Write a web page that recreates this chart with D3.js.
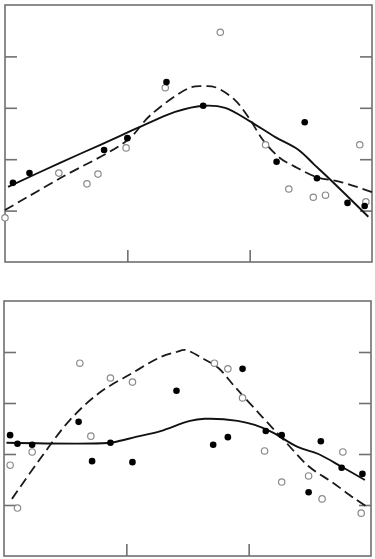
<!DOCTYPE html>
<html>
<head>
<meta charset="utf-8">
<script src="https://cdn.jsdelivr.net/npm/d3@7"></script>
<style>
  html, body { margin: 0; padding: 0; background: #fff; }
  svg { display: block; }
</style>
</head>
<body>
<div id="chart"></div>
<script>
// Panneau du haut : points pleins / vides et deux courbes lissées
const TOP_FILLED = [
  [0.065, 1.54], [0.20, 1.73], [0.81, 2.18], [1.00, 2.41], [1.32, 3.50], [1.62, 3.04],
  [2.22, 1.95], [2.45, 2.72], [2.55, 1.63], [2.80, 1.15], [2.94, 1.09]
];
const TOP_OPEN = [
  [0.00, 0.86], [0.44, 1.73], [0.67, 1.52], [0.76, 1.71], [0.99, 2.22], [1.31, 3.39],
  [1.76, 4.47], [2.13, 2.28], [2.32, 1.42], [2.52, 1.26], [2.62, 1.30], [2.90, 2.28], [2.95, 1.17]
];
const TOP_SOLID = [
  [0.025, 1.46], [0.45, 1.93], [0.78, 2.28], [1.19, 2.72], [1.39, 2.92], [1.62, 3.04],
  [1.80, 3.00], [2.00, 2.74], [2.21, 2.43], [2.40, 2.18], [2.53, 1.89], [2.66, 1.60],
  [2.82, 1.23], [2.97, 0.88]
];
const TOP_DASHED = [
  [0.00, 1.01], [0.45, 1.63], [1.00, 2.37], [1.19, 2.86], [1.51, 3.39], [1.62, 3.42],
  [1.72, 3.40], [1.88, 3.15], [2.00, 2.78], [2.11, 2.37], [2.25, 2.02], [2.39, 1.83],
  [2.55, 1.65], [2.74, 1.56], [3.00, 1.36]
];

// Panneau du bas
const BOTTOM_FILLED = [
  [0.05, 2.37], [0.11, 2.20], [0.23, 2.18], [0.61, 2.63], [0.72, 1.86], [0.87, 2.22],
  [1.05, 1.84], [1.41, 3.24], [1.71, 2.18], [1.83, 2.33], [1.95, 3.67], [2.14, 2.45],
  [2.27, 2.37], [2.49, 1.25], [2.59, 2.25], [2.76, 1.73], [2.93, 1.61]
];
const BOTTOM_OPEN = [
  [0.05, 1.78], [0.11, 0.94], [0.23, 2.04], [0.62, 3.78], [0.71, 2.35], [0.87, 3.49],
  [1.05, 3.41], [1.72, 3.78], [1.83, 3.67], [1.95, 3.10], [2.13, 2.06], [2.27, 1.45],
  [2.49, 1.57], [2.60, 1.12], [2.77, 2.04], [2.92, 0.84]
];
const BOTTOM_SOLID = [
  [0.02, 2.22], [0.87, 2.22], [0.95, 2.26], [1.07, 2.33], [1.28, 2.45], [1.52, 2.65], [1.64, 2.69],
  [1.91, 2.65], [2.05, 2.57], [2.19, 2.43], [2.40, 2.14], [2.57, 2.00], [2.76, 1.75],
  [2.95, 1.49]
];
const BOTTOM_DASHED = [
  [0.065, 1.12], [0.30, 1.92], [0.54, 2.67], [0.78, 3.20], [1.05, 3.59],
  [1.28, 3.90], [1.41, 4.00], [1.48, 4.04], [1.62, 3.88], [1.75, 3.69], [1.89, 3.31],
  [2.11, 2.73], [2.30, 2.24], [2.49, 1.76], [2.68, 1.45], [2.87, 1.12], [2.97, 0.96]
];

const X_TICKS = [1, 2];
const Y_TICKS = [1, 2, 3, 4];

const W = 375, H = 559;
const svg = d3.select('#chart').append('svg').attr('width', W).attr('height', H);

const PANELS = [
  { left: 5, right: 372, top: 5, bottom: 262,
    filled: TOP_FILLED, open: TOP_OPEN, solid: TOP_SOLID, dashed: TOP_DASHED },
  { left: 4, right: 371, top: 301, bottom: 556,
    filled: BOTTOM_FILLED, open: BOTTOM_OPEN, solid: BOTTOM_SOLID, dashed: BOTTOM_DASHED }
];

const FRAME = '#707070';
const TICK = 12;

PANELS.forEach(p => {
  const x = d3.scaleLinear().domain([0, 3]).range([p.left, p.right]);
  const y = d3.scaleLinear().domain([0, 5]).range([p.bottom, p.top]);

  const g = svg.append('g');

  // cadre
  g.append('rect')
    .attr('x', p.left).attr('y', p.top)
    .attr('width', p.right - p.left).attr('height', p.bottom - p.top)
    .attr('fill', 'none').attr('stroke', FRAME).attr('stroke-width', 1.6);

  // graduations vers l'intérieur, sans étiquettes
  const axes = [
    [d3.axisLeft(y).tickValues(Y_TICKS).tickSize(-TICK), `translate(${p.left},0)`],
    [d3.axisRight(y).tickValues(Y_TICKS).tickSize(-TICK), `translate(${p.right},0)`],
    [d3.axisBottom(x).tickValues(X_TICKS).tickSize(-TICK), `translate(0,${p.bottom})`]
  ];
  axes.forEach(([ax, tr]) => {
    const a = g.append('g').attr('transform', tr)
      .call(ax.tickFormat('').tickSizeOuter(0));
    a.select('.domain').remove();
    a.selectAll('line').attr('stroke', FRAME).attr('stroke-width', 1.6);
  });

  const line = d3.line()
    .x(d => x(d[0])).y(d => y(d[1]))
    .curve(d3.curveCatmullRom.alpha(0.5));

  g.append('path').datum(p.dashed)
    .attr('d', line).attr('fill', 'none')
    .attr('stroke', '#1a1a1a').attr('stroke-width', 1.8)
    .attr('stroke-dasharray', '10,5');

  g.append('path').datum(p.solid)
    .attr('d', line).attr('fill', 'none')
    .attr('stroke', '#111').attr('stroke-width', 1.9);

  g.selectAll('circle.open').data(p.open).join('circle')
    .attr('class', 'open')
    .attr('cx', d => x(d[0])).attr('cy', d => y(d[1])).attr('r', 3.2)
    .attr('fill', '#fff').attr('stroke', '#8a8a8a').attr('stroke-width', 1.2);

  g.selectAll('circle.filled').data(p.filled).join('circle')
    .attr('class', 'filled')
    .attr('cx', d => x(d[0])).attr('cy', d => y(d[1])).attr('r', 3.3)
    .attr('fill', '#000');
});
</script>
</body>
</html>
